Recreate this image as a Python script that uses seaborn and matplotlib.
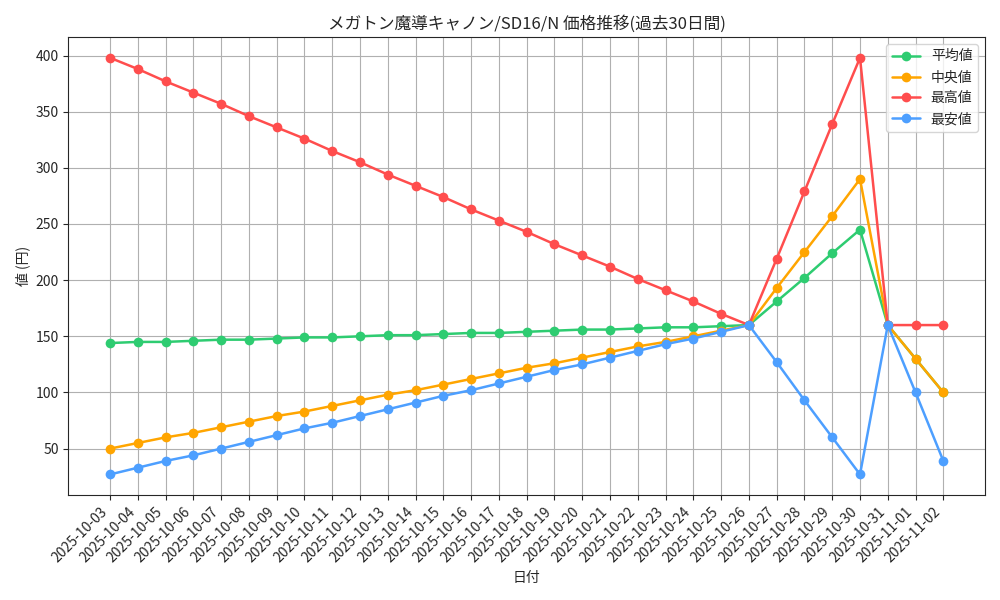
import pandas as pd
import matplotlib
matplotlib.use("Agg")
import matplotlib.pyplot as plt
import seaborn as sns

# dates (past 30 days)
dates = pd.date_range("2025-10-03", "2025-11-02").strftime("%Y-%m-%d").tolist()

avg_price = [144, 145, 145, 146, 147, 147, 148, 149, 149, 150, 151, 151, 152, 153,
             153, 154, 155, 156, 156, 157, 158, 158, 159, 160,
             181, 202, 224, 245, 160, 130, 100]
median_price = [50, 55, 60, 64, 69, 74, 79, 83, 88, 93, 98, 102, 107, 112,
                117, 122, 126, 131, 136, 141, 145, 150, 155, 160,
                193, 225, 257, 290, 160, 130, 100]
max_price = [398, 388, 377, 367, 357, 346, 336, 326, 315, 305, 294, 284, 274, 263,
             253, 243, 232, 222, 212, 201, 191, 181, 170, 160,
             219, 279, 339, 398, 160, 160, 160]
min_price = [27, 33, 39, 44, 50, 56, 62, 68, 73, 79, 85, 91, 97, 102,
             108, 114, 120, 125, 131, 137, 143, 148, 154, 160,
             127, 93, 60, 27, 160, 100, 39]

series_names = ["平均値", "中央値", "最高値", "最安値"]
colors = {"平均値": "#2ecc71", "中央値": "#ffa500", "最高値": "#ff4d4d", "最安値": "#4d9fff"}

df = pd.DataFrame({"日付": dates, "平均値": avg_price, "中央値": median_price,
                   "最高値": max_price, "最安値": min_price})
long_df = df.melt(id_vars="日付", value_vars=series_names, var_name="種類", value_name="値")

sns.set_style("ticks")
plt.rcParams['font.family'] = ['Noto Sans CJK JP', 'DejaVu Sans']

fig, ax = plt.subplots(figsize=(10, 6), dpi=100)
sns.lineplot(data=long_df, x="日付", y="値", hue="種類", hue_order=series_names,
             palette=colors, marker="o", markersize=7, markeredgewidth=0,
             linewidth=1.8, sort=False, ax=ax)

ax.set_title("メガトン魔導キャノン/SD16/N 価格推移(過去30日間)", fontsize=12)
ax.set_xlabel("日付")
ax.set_ylabel("値 (円)")
ax.grid(True, color="#b0b0b0", linewidth=0.8)
ax.set_axisbelow(True)
plt.setp(ax.get_xticklabels(), rotation=45, ha="right", rotation_mode="default")
for sp in ax.spines.values():
    sp.set_visible(True)
ax.legend(title=None, loc="upper right")

plt.tight_layout()
plt.savefig("out.png")
